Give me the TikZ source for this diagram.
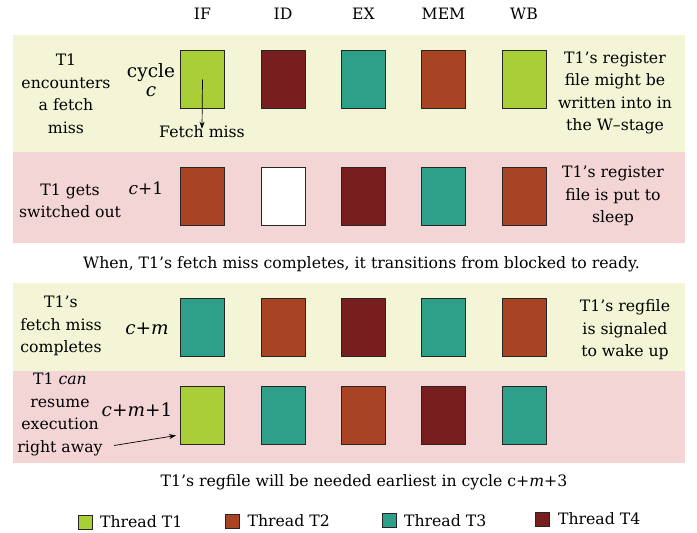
\documentclass[tikz,border=0pt]{standalone}
\usepackage{fontspec}
\setmainfont{DejaVu Serif}
\usetikzlibrary{arrows.meta}
\definecolor{bandY}{HTML}{F4F5D6}
\definecolor{bandP}{HTML}{F4D5D6}
\definecolor{thA}{HTML}{A9CE38}
\definecolor{thB}{HTML}{A84424}
\definecolor{thC}{HTML}{2EA08A}
\definecolor{thD}{HTML}{781E1F}
\tikzset{
  stage/.style={draw=black!85, line width=0.8pt, minimum width=44pt, minimum height=58pt, inner sep=0pt},
  txt/.style={font=\fontsize{15.7}{22.5}\selectfont, align=center, inner sep=0pt},
  swatch/.style={draw=black!85, line width=0.7pt, minimum size=14pt, inner sep=0pt},
  pointer/.style={-{Stealth[length=7pt,width=5pt]}, line width=0.7pt}
}
\begin{document}
\begin{tikzpicture}[x=1pt,y=-1pt]
\useasboundingbox (0,0) rectangle (697,533);
% background bands
\fill[bandY] (13,35) rectangle (685,152);
\fill[bandP] (13,152) rectangle (685,243);
\fill[bandY] (13,283) rectangle (685,371);
\fill[bandP] (13,371) rectangle (685,463);
% stage headers
\node[txt] (hIF) at (202.5,14) {IF};
\node[txt] (hID) at (283,14) {ID};
\node[txt] (hEX) at (363.5,14) {EX};
\node[txt] (hMEM) at (443.5,14) {MEM};
\node[txt] (hWB) at (524,14) {WB};
% row 1: cycle c
\node[stage, fill=thA] (r1c1) at (202.5,79.5) {};
\node[stage, fill=thD] (r1c2) at (283,79.5) {};
\node[stage, fill=thC] (r1c3) at (363.5,79.5) {};
\node[stage, fill=thB] (r1c4) at (443.5,79.5) {};
\node[stage, fill=thA] (r1c5) at (524,79.5) {};
\node[txt] (l1) at (66,94) {T1\\encounters\\a fetch\\miss};
\node[txt, font=\fontsize{18.5}{19}\selectfont] (cy1) at (151,80) {cycle\\\textit{c}};
\node[txt] (fm) at (202,132) {Fetch miss};
\draw[pointer] (r1c1.center) -- ([yshift=-3pt]fm.north);
\node[txt] (rt1) at (615,93) {T1’s register\\file might be\\written into in\\the W–stage};
% row 2: cycle c+1
\node[stage, fill=thB] (r2c1) at (202.5,196) {};
\node[stage, fill=white] (r2c2) at (283,196) {};
\node[stage, fill=thD] (r2c3) at (363.5,196) {};
\node[stage, fill=thC] (r2c4) at (443.5,196) {};
\node[stage, fill=thB] (r2c5) at (524,196) {};
\node[txt] (l2) at (70,201) {T1 gets\\switched out};
\node[txt, font=\fontsize{17}{19}\selectfont] (cy2) at (146,188) {\textit{c}+1};
\node[txt] (rt2) at (613,196) {T1’s register\\file is put to\\sleep};
% transition note
\node[txt] (note1) at (361.5,264) {When, T1’s fetch miss completes, it transitions from blocked to ready.};
% row 3: cycle c+m
\node[stage, fill=thC] (r3c1) at (202.5,327.5) {};
\node[stage, fill=thB] (r3c2) at (283,327.5) {};
\node[stage, fill=thD] (r3c3) at (363.5,327.5) {};
\node[stage, fill=thC] (r3c4) at (443.5,327.5) {};
\node[stage, fill=thB] (r3c5) at (524,327.5) {};
\node[txt] (l3) at (61,326) {T1’s\\fetch miss\\completes};
\node[txt, font=\fontsize{18.5}{19}\selectfont] (cy3) at (147,329) {\textit{c}+\textit{m}};
\node[txt] (rt3) at (625,330) {T1’s regfile\\is signaled\\to wake up};
% row 4: cycle c+m+1
\node[stage, fill=thA] (r4c1) at (202.5,415) {};
\node[stage, fill=thC] (r4c2) at (283,415) {};
\node[stage, fill=thB] (r4c3) at (363.5,415) {};
\node[stage, fill=thD] (r4c4) at (443.5,415) {};
\node[stage, fill=thC] (r4c5) at (524,415) {};
\node[txt] (l4) at (60,414.5) {T1 \textit{can}\\resume\\execution\\right away};
\node[txt, font=\fontsize{18.5}{19}\selectfont] (cy4) at (137,410) {\textit{c}+\textit{m}+1};
\coordinate (a4) at (114,445.5);
\draw[pointer] (a4) -- ([shift={(-4,20.5)}]r4c1.west);
% earliest-need note
\node[txt] (note2) at (364,482) {T1’s regfile will be needed earliest in cycle c+\textit{m}+3};
% legend
\node[swatch, fill=thA] (k1) at (85.5,522) {};
\node[txt, anchor=west] (k1t) at ([xshift=7pt]k1.east) {Thread T1};
\node[swatch, fill=thB] (k2) at (232,521) {};
\node[txt, anchor=west] (k2t) at ([xshift=8pt]k2.east) {Thread T2};
\node[swatch, fill=thC] (k3) at (389.5,520.5) {};
\node[txt, anchor=west] (k3t) at ([xshift=7pt]k3.east) {Thread T3};
\node[swatch, fill=thD] (k4) at (542.5,519) {};
\node[txt, anchor=west] (k4t) at ([xshift=8pt]k4.east) {Thread T4};
\end{tikzpicture}
\end{document}
